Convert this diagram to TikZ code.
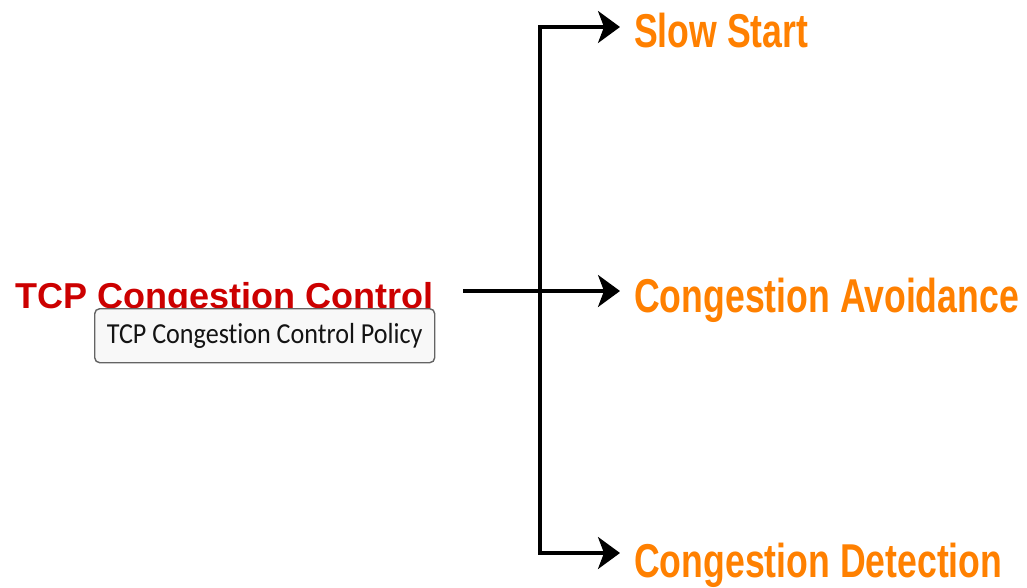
\documentclass[tikz,border=0pt]{standalone}
\usepackage{fontspec}
\usetikzlibrary{arrows.meta}
\newfontfamily\labfont{Liberation Sans}[FakeStretch=0.75]
\newfontfamily\mainfont{Liberation Sans}
\newfontfamily\tipfont{Carlito}[FakeStretch=0.9, Ligatures=NoCommon]
\definecolor{tcpred}{RGB}{204,0,0}
\definecolor{laborange}{RGB}{255,128,0}
\definecolor{tipborder}{RGB}{100,100,100}
\definecolor{tipfill}{RGB}{248,248,248}
\definecolor{tiptext}{RGB}{20,20,20}
\tikzset{
  mainlab/.style={inner sep=0pt, text=tcpred, font=\mainfont\bfseries\fontsize{36}{40}\selectfont},
  branchlab/.style={inner sep=0pt, text=laborange, font=\labfont\bfseries\fontsize{47.5}{50}\selectfont},
  tipbox/.style={draw=tipborder, line width=1.4pt, fill=tipfill, rounded corners=5pt,
    minimum width=340pt, minimum height=54pt, inner sep=0pt, text=tiptext,
    font=\tipfont\fontsize{29}{32}\selectfont},
  wire/.style={line width=3.2pt, black},
  tip/.style={-{Stealth[length=22pt,width=32pt,inset=6pt]}},
}
\begin{document}
\begin{tikzpicture}[x=1pt,y=-1pt]
\useasboundingbox (0,0) rectangle (1027,587);
\node[mainlab, anchor=base west] (tcp) at (15,308) {TCP Congestion Control};
\node[tipbox, anchor=north west] (policy) at (94,308) {TCP Congestion Control Policy};
\node[branchlab, anchor=base west] (ss) at (634,47) {Slow Start};
\node[branchlab, anchor=base west] (ca) at (634,312) {Congestion Avoidance};
\node[branchlab, anchor=base west] (cd) at (634,577) {Congestion Detection};
\coordinate (j) at (540,291);
\coordinate (jt) at (540,27);
\coordinate (jb) at (540,553);
\draw[wire, tip] ([xshift=30pt]tcp.base east |- j) -- ([xshift=-14pt]ca.base west |- j);
\draw[wire, {Stealth[length=22pt,width=32pt,inset=6pt]}-{Stealth[length=22pt,width=32pt,inset=6pt]}]
  ([xshift=-14pt]ss.base west |- jt) -| (jb) -- ([xshift=-14pt]cd.base west |- jb);
\end{tikzpicture}
\end{document}
